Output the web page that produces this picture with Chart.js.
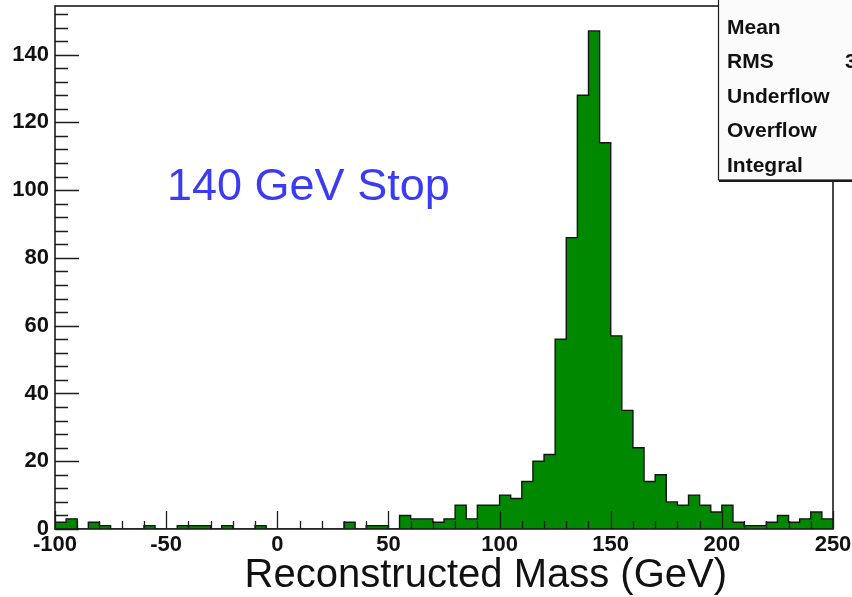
<!DOCTYPE html>
<html>
<head>
<meta charset="utf-8">
<title>Reconstructed Mass</title>
<script src="https://cdn.jsdelivr.net/npm/chart.js@4.4.1/dist/chart.umd.min.js"></script>
<style>
  html, body { margin: 0; padding: 0; background: #ffffff; }
  #massChart { display: block; }
</style>
</head>
<body>
<canvas id="massChart" width="852" height="597"></canvas>
<script>
// Histogram binning (GeV)
const xLow = -100;
const xHigh = 250;
const binWidth = 5;

// Entries per 5 GeV bin, from -100 up to 250
const counts = [
  2, 3, 0, 2, 1, 0, 0, 0, 1, 0,
  0, 1, 1, 1, 0, 1, 0, 0, 1, 0,
  0, 0, 0, 0, 0, 0, 2, 0, 1, 1,
  0, 4, 3, 3, 2, 3, 7, 3, 7, 7,
  10, 9, 14, 20, 22, 56, 86, 128, 147, 114,
  57, 35, 24, 14, 16, 8, 7, 10, 7, 5,
  7, 2, 1, 1, 2, 4, 2, 3, 5, 3
];

const xTicks = [-100, -50, 0, 50, 100, 150, 200, 250];
const yTicks = [0, 20, 40, 60, 80, 100, 120, 140];
const statLabels = ["Entries", "Mean", "RMS", "Underflow", "Overflow", "Integral"];
const xTitle = "Reconstructed Mass (GeV)";
const plotLabel = "140 GeV Stop";

const yMax = Math.max(...counts) * 1.05;

// Step outline points: left edge of each bin, plus the closing edge
const stepPoints = [];
for (let i = 0; i <= counts.length; i++) {
  stepPoints.push({ x: xLow + i * binWidth, y: counts[Math.min(i, counts.length - 1)] });
}

// Mean / RMS of the binned data, for the stats box
function binStats() {
  let n = 0, sum = 0, sum2 = 0;
  counts.forEach((c, i) => {
    const mid = xLow + (i + 0.5) * binWidth;
    n += c; sum += c * mid; sum2 += c * mid * mid;
  });
  const mean = sum / n;
  return { n, mean, rms: Math.sqrt(sum2 / n - mean * mean) };
}

const ROOT_FONT = '"Liberation Sans", Arial, Helvetica, sans-serif';

// no extra room for half tick labels, the frame is placed by layout padding
function fixBox(scale, size) {
  if (scale.isHorizontal()) scale.height = size; else scale.width = size;
  scale.paddingTop = 0;
  scale.paddingBottom = 0;
  scale.paddingLeft = 0;
  scale.paddingRight = 0;
}

// Frame, tick marks, label text and the stats box
const rootStyle = {
  id: "rootStyle",
  afterDatasetsDraw(chart) {
    const { ctx, chartArea: a, scales: { x, y } } = chart;
    ctx.save();
    ctx.strokeStyle = "#1c1c1c";
    ctx.lineWidth = 1.3;

    // x ticks: major every 50, minor every 10
    ctx.beginPath();
    for (let v = xLow; v <= xHigh; v += 10) {
      const px = Math.round(x.getPixelForValue(v)) + 0.5;
      const len = (v % 50 === 0) ? 18 : 8;
      ctx.moveTo(px, a.bottom);
      ctx.lineTo(px, a.bottom - len);
    }
    // y ticks: major every 20, minor every 4
    for (let v = 0; v <= 152; v += 4) {
      const py = Math.round(y.getPixelForValue(v)) + 0.5;
      const len = (v % 20 === 0) ? 24 : 13;
      ctx.moveTo(a.left, py);
      ctx.lineTo(a.left + len, py);
    }
    ctx.stroke();

    // frame
    ctx.lineWidth = 1.6;
    ctx.strokeRect(a.left, a.top, a.right - a.left, a.bottom - a.top);

    // label inside the frame
    ctx.fillStyle = "#3b3bf2";
    ctx.font = "45px " + ROOT_FONT;
    ctx.textBaseline = "alphabetic";
    ctx.textAlign = "left";
    ctx.fillText(plotLabel, 167, 200);

    // axis title, right aligned as ROOT does
    ctx.fillStyle = "#111111";
    ctx.font = "40px " + ROOT_FONT;
    ctx.textAlign = "right";
    ctx.fillText(xTitle, 727, 587);
    ctx.restore();
  },
  afterDraw(chart) {
    const { ctx } = chart;
    const s = binStats();
    ctx.save();
    // stats box with its drop shadow
    ctx.fillStyle = "#1c1c1c";
    ctx.fillRect(719, -10, 140, 192);
    ctx.fillStyle = "#fbfbfb";
    ctx.fillRect(718, -10, 140, 190);
    ctx.strokeStyle = "#1c1c1c";
    ctx.lineWidth = 1.2;
    ctx.strokeRect(718.5, -10, 140, 190);

    ctx.fillStyle = "#111111";
    ctx.font = "bold 21px " + ROOT_FONT;
    ctx.textAlign = "left";
    ctx.textBaseline = "alphabetic";
    statLabels.forEach((t, k) => {
      ctx.fillText(t, 727, -1 + k * 34.5);
    });
    // only the start of the RMS value fits inside the page
    ctx.fillText(s.rms.toFixed(2), 845, -1 + 2 * 34.5);
    ctx.restore();
  }
};

new Chart(document.getElementById("massChart"), {
  type: "line",
  data: {
    datasets: [{
      data: stepPoints,
      stepped: "before",
      fill: "origin",
      backgroundColor: "#008800",
      borderColor: "#141414",
      borderWidth: 1.4,
      pointRadius: 0
    }]
  },
  options: {
    responsive: false,
    animation: false,
    devicePixelRatio: 1,
    layout: { padding: { top: 6, right: 19, left: 0, bottom: 0 } },
    plugins: {
      legend: { display: false },
      tooltip: { enabled: false }
    },
    scales: {
      x: {
        type: "linear",
        min: xLow,
        max: xHigh,
        afterBuildTicks: scale => { scale.ticks = xTicks.map(v => ({ value: v })); },
        afterFit: scale => fixBox(scale, 68),
        grid: { display: false, drawTicks: false },
        border: { display: false },
        ticks: {
          padding: 3,
          maxRotation: 0,
          autoSkip: false,
          color: "#111111",
          font: { family: ROOT_FONT, size: 22, weight: "bold" }
        }
      },
      y: {
        min: 0,
        max: yMax,
        afterBuildTicks: scale => { scale.ticks = yTicks.map(v => ({ value: v })); },
        afterFit: scale => fixBox(scale, 55),
        grid: { display: false, drawTicks: false },
        border: { display: false },
        ticks: {
          padding: 6,
          color: "#111111",
          font: { family: ROOT_FONT, size: 22, weight: "bold" }
        }
      }
    }
  },
  plugins: [rootStyle]
});
</script>
</body>
</html>
